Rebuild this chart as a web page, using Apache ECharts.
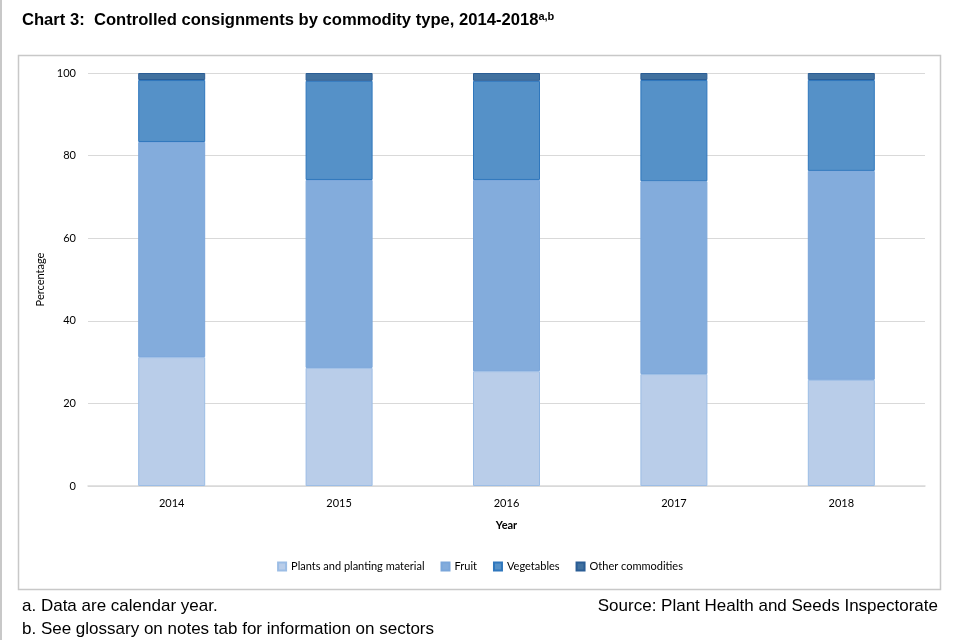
<!DOCTYPE html>
<html>
<head>
<meta charset="utf-8">
<script src="https://cdn.jsdelivr.net/npm/echarts@6/dist/echarts.min.js"></script>
<style>html,body{margin:0;padding:0;background:#fff;}#c{width:960px;height:640px;}</style>
</head>
<body>
<div id="c"></div>
<script>
const years = ['2014', '2015', '2016', '2017', '2018'];
const plants = [31.2, 28.6, 27.8, 27.1, 25.7];
const fruit = [52.1, 45.5, 46.3, 46.7, 50.6];
const vegetables = [15.0, 24.0, 24.0, 24.5, 22.0];
const other = [1.7, 1.9, 1.9, 1.7, 1.7];
const yTicks = [0, 20, 40, 60, 80, 100];

const chart = echarts.init(document.getElementById('c'));
const axisFont = 'Lato, "Open Sans", sans-serif';
function mk(name, data, color, border) {
  return {
    name: name, type: 'bar', stack: 'total', data: data, barWidth: 67,
    itemStyle: { color: color, borderColor: border, borderWidth: 1 },
    emphasis: { disabled: true }
  };
}
chart.setOption({
  animation: false,
  backgroundColor: '#fff',
  title: [{
    text: '{t|Chart 3:  Controlled consignments by commodity type, 2014-2018}{s|a,b}',
    left: 17, top: 6,
    textStyle: {
      rich: {
        t: { fontFamily: '"Liberation Sans", Arial, sans-serif', fontWeight: 'bold', fontSize: 16.6, color: '#000' },
        s: { fontFamily: '"Liberation Sans", Arial, sans-serif', fontWeight: 'bold', fontSize: 11, color: '#000', verticalAlign: 'top', padding: [0, 0, 8, 0] }
      }
    }
  }],
  legend: {
    bottom: 63, left: 'center', itemWidth: 8, itemHeight: 8, itemGap: 16,
    icon: 'rect',
    textStyle: { fontFamily: axisFont, fontSize: 11, color: '#000' },
    data: ['Plants and planting material', 'Fruit', 'Vegetables', 'Other commodities']
  },
  grid: { left: 88, right: 35, top: 73, bottom: 154 },
  xAxis: {
    type: 'category', data: years,
    name: 'Year', nameLocation: 'middle', nameGap: 34,
    nameTextStyle: { fontFamily: axisFont, fontSize: 11, fontWeight: 'bold', color: '#000' },
    axisLine: { lineStyle: { color: '#d9d9d9', width: 1.5 } },
    axisTick: { show: false },
    axisLabel: { fontFamily: axisFont, fontSize: 11, color: '#000', margin: 12 }
  },
  yAxis: {
    type: 'value', min: 0, max: 100, interval: 20,
    name: 'Percentage', nameLocation: 'middle', nameGap: 37,
    nameTextStyle: { fontFamily: axisFont, fontSize: 11, color: '#000' },
    axisLine: { show: false }, axisTick: { show: false },
    axisLabel: { fontFamily: axisFont, fontSize: 11, color: '#000', margin: 12,
      formatter: function (v) { return yTicks.indexOf(v) >= 0 ? String(v) : ''; } },
    splitLine: { lineStyle: { color: '#d9d9d9' } }
  },
  series: [
    mk('Plants and planting material', plants, '#b9cde9', '#9cbde5'),
    mk('Fruit', fruit, '#83acdc', '#7aa6da'),
    mk('Vegetables', vegetables, '#5591c8', '#2f77bd'),
    mk('Other commodities', other, '#41719f', '#2a5d95')
  ],
  graphic: [
    { type: 'rect', shape: { x: 18.5, y: 55.5, width: 922, height: 534 }, style: { fill: 'none', stroke: '#c8c8c8', lineWidth: 1.5 }, silent: true },
    { type: 'line', shape: { x1: 1, y1: 0, x2: 1, y2: 640 }, style: { stroke: '#c8c8c8', lineWidth: 2 }, silent: true },
    { type: 'text', left: 22, top: 598, style: { text: 'a. Data are calendar year.', font: '17px "Liberation Sans", Arial, sans-serif', fill: '#000' } },
    { type: 'text', left: 22, top: 621, style: { text: 'b. See glossary on notes tab for information on sectors', font: '17px "Liberation Sans", Arial, sans-serif', fill: '#000' } },
    { type: 'text', right: 22, top: 598, style: { text: 'Source: Plant Health and Seeds Inspectorate', font: '17px "Liberation Sans", Arial, sans-serif', fill: '#000' } }
  ]
});
</script>
</body>
</html>
